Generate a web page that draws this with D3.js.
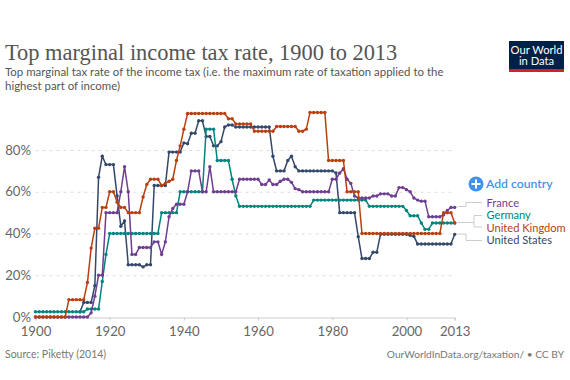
<!DOCTYPE html>
<html>
<head>
<meta charset="utf-8">
<script src="https://d3js.org/d3.v7.min.js"></script>
<style>
body { margin: 0; background: #fff; }
text { font-family: Lato, sans-serif; }
</style>
</head>
<body>
<div id="container"></div>
<script>
var years = d3.range(1900, 2014);
var xTicks = [1900, 1920, 1940, 1960, 1980, 2000, 2013];
var yTicks = [0, 20, 40, 60, 80];

var unitedStates = [
    null, null, null, null, null, null, null, null, null, null,
    null, null, 2.5, 7, 7, 7, 15, 67, 77, 73,
    73, 73, 58, 43.5, 46, 25, 25, 25, 25, 24,
    25, 25, 63, 63, 63, 63, 79, 79, 79, 79,
    83.4, 83, 88, 88, 94, 94, 86.5, 86.5, 82, 82,
    84, 91, 92, 92, 91, 91, 91, 91, 91, 91,
    91, 91, 91, 91, 77, 70, 70, 70, 75, 77,
    72, 70, 70, 70, 70, 70, 70, 70, 70, 70,
    70, 69, 50, 50, 50, 50, 50, 38.5, 28, 28,
    28, 31, 31, 39.6, 39.6, 39.6, 39.6, 39.6, 39.6, 39.6,
    39.6, 39.1, 38.6, 35, 35, 35, 35, 35, 35, 35,
    35, 35, 35, 39.6
];
var germany = [
    2.5, 2.5, 2.5, 2.5, 2.5, 2.5, 2.5, 2.5, 2.5, 2.5,
    2.5, 2.5, 2.5, 2.5, 3.8, 3.8, 3.8, 3.8, 17, 30,
    40, 40, 40, 40, 40, 40, 40, 40, 40, 40,
    40, 40, 40, 40, 50, 50, 50, 50, 50, 60,
    60, 60, 60, 60, 60, 60, 90, 90, 90, 75,
    75, 75, 75, 66, 58, 53, 53, 53, 53, 53,
    53, 53, 53, 53, 53, 53, 53, 53, 53, 53,
    53, 53, 53, 53, 53, 56, 56, 56, 56, 56,
    56, 56, 56, 56, 56, 56, 56, 56, 56, 56,
    53, 53, 53, 53, 53, 53, 53, 53, 53, 53,
    51, 48.5, 48.5, 48.5, 45, 42, 42, 45, 45, 45,
    45, 45, 45, 45
];
var france = [
    0, 0, 0, 0, 0, 0, 0, 0, 0, 0,
    0, 0, 0, 0, 0, 2, 10, 20, 20, 50,
    50, 50, 50, 60, 72, 60, 30, 30, 33.3, 33.3,
    33.3, 33.3, 36, 36, 30, 36, 48, 52, 54, 54,
    54, 60, 70, 70, 70, 60, 60, 72, 60, 60,
    60, 60, 60, 60, 60, 66, 66, 66, 66, 66,
    66, 63.5, 63.5, 65.6, 63.5, 63.5, 65, 66, 66, 64.5,
    61.5, 61, 60, 60, 60, 60, 60, 60, 60, 60,
    66, 66, 69, 71, 66, 64, 58, 57, 57, 57,
    57, 58, 58, 59, 59, 59, 58, 58, 62, 62,
    61, 60, 57, 56, 55.5, 55.5, 48, 48, 48, 48,
    49, 51, 52.5, 52.5
];
var unitedKingdom = [
    0, 0, 0, 0, 0, 0, 0, 0, 0, 8.3,
    8.3, 8.3, 8.3, 8.3, 16.5, 33, 42.5, 42.5, 52.5, 52.5,
    60, 60, 55, 52.5, 52.5, 50, 50, 50, 50, 57.5,
    63.5, 66, 66, 66, 63, 64, 65, 66, 75, 82,
    90, 97.5, 97.5, 97.5, 97.5, 97.5, 97.5, 97.5, 97.5, 97.5,
    97.5, 97.5, 95, 95, 92.5, 92.5, 92.5, 92.5, 92.5, 89,
    89, 89, 89, 89, 89, 91.25, 91.25, 91.25, 91.25, 91.25,
    91.25, 89, 89, 90, 98, 98, 98, 98, 98, 75,
    75, 75, 75, 75, 60, 60, 60, 60, 40, 40,
    40, 40, 40, 40, 40, 40, 40, 40, 40, 40,
    40, 40, 40, 40, 40, 40, 40, 40, 40, 40,
    50, 50, 50, 45
];

var countries = ['United States', 'Germany', 'France', 'United Kingdom'];
var seriesValues = [unitedStates, germany, france, unitedKingdom];
var colors = ['#34486b', '#00847e', '#6d3e91', '#b8400f'];

var width = 570,
    height = 380;

var svg = d3.select('#container')
    .append('svg')
    .attr('width', width)
    .attr('height', height);

// heading
svg.append('text')
    .attr('x', 5)
    .attr('y', 60)
    .attr('fill', '#555')
    .style('font-family', '"Liberation Serif", serif')
    .style('font-size', '22.4px')
    .text('Top marginal income tax rate, 1900 to 2013');
svg.append('text')
    .attr('x', 5)
    .attr('y', 76)
    .attr('fill', '#555')
    .style('font-size', '11.45px')
    .text('Top marginal tax rate of the income tax (i.e. the maximum rate of taxation applied to the');
svg.append('text')
    .attr('x', 5)
    .attr('y', 90)
    .attr('fill', '#555')
    .style('font-size', '11.45px')
    .text('highest part of income)');

// logo
svg.append('rect').attr('x', 509).attr('y', 41).attr('width', 55).attr('height', 31).attr('fill', '#002147');
svg.append('rect').attr('x', 509).attr('y', 69).attr('width', 55).attr('height', 3).attr('fill', '#ce261e');
svg.append('text').attr('x', 536.5).attr('y', 53.5).attr('text-anchor', 'middle').attr('fill', '#fff')
    .style('font-size', '11.2px').text('Our World');
svg.append('text').attr('x', 536.5).attr('y', 65).attr('text-anchor', 'middle').attr('fill', '#fff')
    .style('font-size', '11.2px').text('in Data');

var x = d3.scaleLinear().domain([1900, 2013]).range([35.5, 454.7]);
var y = d3.scaleLinear().domain([0, 80]).range([317, 150]);

// grid lines come from a long left axis
var yAxis = d3.axisLeft(y)
    .tickValues(yTicks)
    .tickSize(-(x(2013) - x(1900)))
    .tickPadding(4.5)
    .tickFormat(function(d) { return d + '%'; });
var yG = svg.append('g')
    .attr('transform', 'translate(' + x(1900) + ',0)')
    .call(yAxis);
yG.select('.domain').remove();
yG.selectAll('line')
    .attr('stroke', '#ddd')
    .attr('stroke-dasharray', '3,4')
    .filter(function(d) { return d === 0; })
    .attr('stroke-opacity', 0);
yG.selectAll('text')
    .attr('fill', '#666')
    .style('font-size', '13.2px');

var xAxis = d3.axisBottom(x)
    .tickValues(xTicks)
    .tickSize(3)
    .tickPadding(6)
    .tickFormat(d3.format('d'));
var xG = svg.append('g')
    .attr('transform', 'translate(0,317.5)')
    .call(xAxis);
xG.select('.domain').attr('stroke', '#ccc');
xG.selectAll('line').attr('stroke', '#ccc');
xG.selectAll('text')
    .attr('fill', '#666')
    .style('font-size', '13.2px');

var line = d3.line()
    .defined(function(d) { return d != null; })
    .x(function(d, i) { return x(years[i]); })
    .y(function(d) { return y(d); });

countries.forEach(function(name, k) {
    var values = seriesValues[k];
    svg.append('path')
        .attr('d', line(values))
        .attr('fill', 'none')
        .attr('stroke', colors[k])
        .attr('stroke-width', 1.5);
    svg.append('g')
        .selectAll('circle')
        .data(years.filter(function(yr, i) { return values[i] != null; }))
        .enter()
        .append('circle')
        .attr('cx', function(d) { return x(d); })
        .attr('cy', function(d) { return y(values[d - 1900]); })
        .attr('r', 1.7)
        .attr('fill', colors[k]);
});

// add country button
svg.append('circle').attr('cx', 476).attr('cy', 184).attr('r', 7.5).attr('fill', '#3f93ec');
svg.append('path').attr('d', 'M471.5,184H480.5M476,179.5V188.5').attr('stroke', '#fff').attr('stroke-width', 2);
svg.append('text')
    .attr('x', 486)
    .attr('y', 188)
    .attr('fill', '#3f93ec')
    .style('font-size', '12.2px')
    .style('font-weight', 600)
    .text('Add country');

// legend
var legendNames = ['France', 'Germany', 'United Kingdom', 'United States'];
var legendColors = ['#6d3e91', '#00847e', '#b8400f', '#34486b'];
var legendY = [206.5, 219, 231.5, 244];
svg.selectAll('.legend')
    .data(legendNames)
    .enter()
    .append('text')
    .attr('class', 'legend')
    .attr('x', 486.5)
    .attr('y', function(d, i) { return legendY[i]; })
    .attr('fill', function(d, i) { return legendColors[i]; })
    .style('font-size', '11.1px')
    .text(function(d) { return d; });

var connectors = [
    'M457.5,206.5H466V202.5H482',
    'M457.5,222.5H474V215.5H482M474,222.5V227H482',
    'M457.5,234H466V240.5H482'
];
svg.selectAll('.connector')
    .data(connectors)
    .enter()
    .append('path')
    .attr('class', 'connector')
    .attr('d', function(d) { return d; })
    .attr('fill', 'none')
    .attr('stroke', '#ccc');

// footer
svg.append('text')
    .attr('x', 5)
    .attr('y', 358)
    .attr('fill', '#777')
    .style('font-size', '10.5px')
    .text('Source: Piketty (2014)');
svg.append('text')
    .attr('x', 564)
    .attr('y', 358)
    .attr('text-anchor', 'end')
    .attr('fill', '#777')
    .style('font-size', '10.2px')
    .text('OurWorldInData.org/taxation/ • CC BY');
</script>
</body>
</html>
